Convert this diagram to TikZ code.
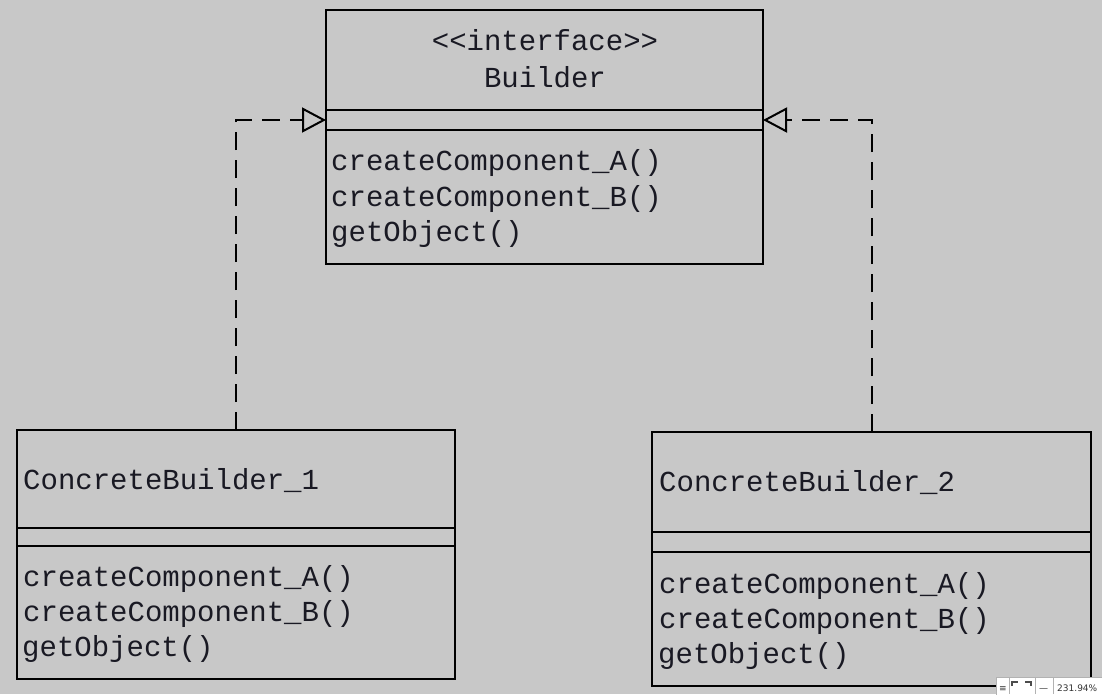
\documentclass[tikz,border=0pt]{standalone}
\usepackage{fontspec}
\newfontfamily\cour{Liberation Mono}
\newfontfamily\dvs{DejaVu Sans}
\usetikzlibrary{arrows.meta}
\definecolor{bg}{RGB}{200,200,200}
\definecolor{ink}{RGB}{25,25,35}
\begin{document}
\begin{tikzpicture}[x=1pt,y=-1pt,
  part/.style={draw=black, line width=2pt, inner sep=0pt, outer sep=0pt, anchor=north west},
  txt/.style={font=\cour\fontsize{29}{35}\selectfont, inner sep=0pt, anchor=base west, text=ink},
  ctxt/.style={txt, anchor=base},
  realize/.style={draw=black, line width=2pt, dash pattern=on 18pt off 10pt,
    -{Triangle[open, length=24pt, width=25pt, line width=2pt]}},
  widget/.style={draw=gray!60, fill=white, line width=1pt, inner sep=0pt, anchor=north west},
  wtxt/.style={font=\dvs\fontsize{9}{11}\selectfont, inner sep=0pt, anchor=base west, text=black!80}
]
\fill[bg] (0,0) rectangle (1102,694);
\useasboundingbox (0,0) rectangle (1102,694);

% Builder
\node[part, minimum width=437pt, minimum height=100pt] (bname) at (326,10) {};
\node[part, minimum width=437pt, minimum height=20pt] (battr) at (326,110) {};
\node[part, minimum width=437pt, minimum height=134pt] (bops) at (326,130) {};
\node[ctxt] (bst) at (545,50) {\mbox{<}\mbox{<}interface\mbox{>}\mbox{>}};
\node[ctxt] (bnm) at (545,87) {Builder};
\node[txt] (bm1) at (331,170) {createComponent\_A()};
\node[txt] (bm2) at (331,206) {createComponent\_B()};
\node[txt] (bm3) at (331,241) {getObject()};

% ConcreteBuilder_1
\node[part, minimum width=438pt, minimum height=98pt] (c1name) at (17,430) {};
\node[part, minimum width=438pt, minimum height=18pt] (c1attr) at (17,528) {};
\node[part, minimum width=438pt, minimum height=133pt] (c1ops) at (17,546) {};
\node[txt] (c1n) at (23,489) {ConcreteBuilder\_1};
\node[txt] (c1m1) at (23,586) {createComponent\_A()};
\node[txt] (c1m2) at (23,621) {createComponent\_B()};
\node[txt] (c1m3) at (22,656) {getObject()};

% ConcreteBuilder_2
\node[part, minimum width=439pt, minimum height=100pt] (c2name) at (652,432) {};
\node[part, minimum width=439pt, minimum height=20pt] (c2attr) at (652,532) {};
\node[part, minimum width=439pt, minimum height=134pt] (c2ops) at (652,552) {};
\node[txt] (c2n) at (659,491) {ConcreteBuilder\_2};
\node[txt] (c2m1) at (659,593) {createComponent\_A()};
\node[txt] (c2m2) at (659,628) {createComponent\_B()};
\node[txt] (c2m3) at (658,663) {getObject()};

% realizations
\draw[realize] (c1name.north) |- (battr.west);
\draw[realize] (c2name.north) |- (battr.east);

% zoom widget (screenshot artifact)
\node[widget, minimum width=108pt, minimum height=20pt] (zw) at (996,677) {};
\node[wtxt] (zw1) at (999,691) {≡};
\node[wtxt] (zw2) at (1039,691) {—};
\node[wtxt] (zw3) at (1057,691) {231.94\%};
\draw[black!70, line width=1.2pt] (1012,686) |- (1018,682) (1025,682) -| (1031,686);
\draw[gray!60, line width=1pt] (1009,677) -- (1009,694) (1035,677) -- (1035,694) (1053,677) -- (1053,694);
\end{tikzpicture}
\end{document}
